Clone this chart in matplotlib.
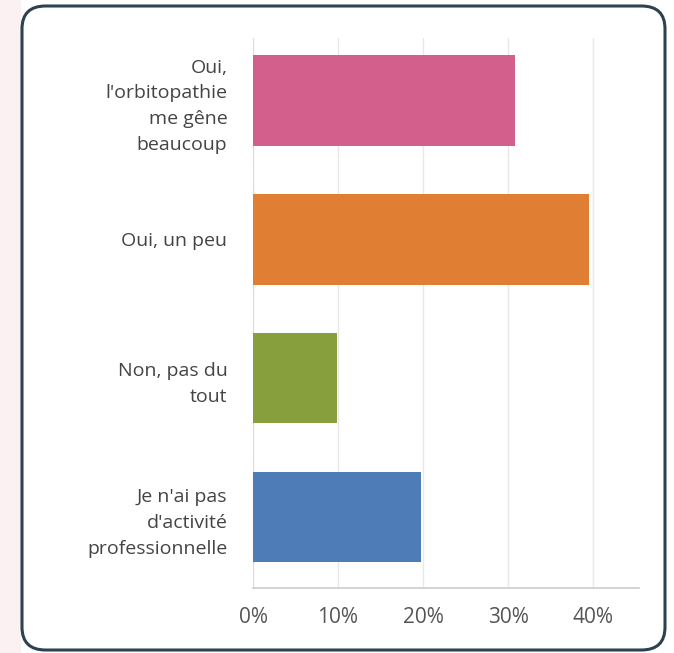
import matplotlib.pyplot as plt
from matplotlib.patches import FancyBboxPatch, Rectangle

# Survey answers (top to bottom) and their shares in %
categories = [
    "Oui,\nl'orbitopathie\nme gêne\nbeaucoup",
    "Oui, un peu",
    "Non, pas du\ntout",
    "Je n'ai pas\nd'activité\nprofessionnelle",
]
values = [30.77, 39.56, 9.89, 19.78]
bar_colors = ['#D35F8D', '#E07E34', '#87A03D', '#4D7CB7']
xticks = [0, 10, 20, 30, 40]
xtick_labels = ['0%', '10%', '20%', '30%', '40%']

W, H = 674, 653
fig = plt.figure(figsize=(W / 100, H / 100), dpi=100)
fig.patch.set_facecolor('white')

# faint pink backdrop on the left edge, outside the card
fig.patches.append(Rectangle((0, 0), 21 / W, 1, transform=fig.transFigure,
                             facecolor='#FBF0F2', edgecolor='none', zorder=0))

# rounded card frame
card = FancyBboxPatch((22 / W, 3 / H), 643 / W, 644 / H,
                      boxstyle='round,pad=0,rounding_size=0.035',
                      transform=fig.transFigure, facecolor='white',
                      edgecolor='#2D4250', linewidth=2.2, zorder=1)
fig.patches.append(card)

ax = fig.add_axes([253 / W, 1 - 588 / H, (639 - 253) / W, (588 - 38) / H])
ax.set_facecolor('none')
ax.set_zorder(2)

y = list(range(len(categories)))
ax.barh(y, values, height=0.65, color=bar_colors, zorder=3)

ax.set_xlim(0, 45.4)
ax.set_ylim(3.51, -0.45)

ax.set_xticks(xticks)
ax.set_xticklabels(xtick_labels)
ax.set_yticks(y)
ax.set_yticklabels(categories, linespacing=1.55)

ax.tick_params(axis='x', length=0, pad=14, labelsize=15, labelcolor='#555555')
ax.tick_params(axis='y', length=0, pad=18.5, labelsize=14, labelcolor='#444444')
for lbl in ax.get_xticklabels() + ax.get_yticklabels():
    lbl.set_fontfamily('Open Sans')

ax.grid(axis='x', color='#E8E8E8', linewidth=1, zorder=0)
ax.set_axisbelow(True)

for side in ['top', 'right']:
    ax.spines[side].set_visible(False)
ax.spines['left'].set_color('#DDDDDD')
ax.spines['bottom'].set_color('#CCCCCC')
ax.spines['bottom'].set_linewidth(1.2)

fig.savefig('out.png', dpi=100)
